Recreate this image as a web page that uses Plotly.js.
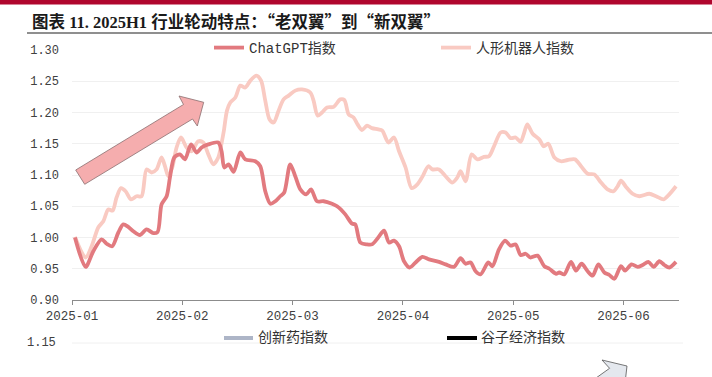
<!DOCTYPE html>
<html>
<head>
<meta charset="utf-8">
<script src="https://cdn.plot.ly/plotly-3.0.1.min.js"></script>
<style>html,body{margin:0;padding:0;background:#fff;}#chart{width:712px;height:377px;}</style>
</head>
<body>
<div id="chart"></div>
<script>
// ---- data (x in months since 2025-01) ----
var monthTicks = [0, 1, 2, 3, 4, 5];
var monthLabels = ["2025-01", "2025-02", "2025-03", "2025-04", "2025-05", "2025-06"];

var chatName = "ChatGPT指数";
var chatX = [0.027,0.123,0.193,0.268,0.314,0.365,0.420,0.465,0.510,0.556,0.616,0.676,0.737,0.776,0.812,0.858,0.888,0.927,0.979,1.024,1.079,1.130,1.175,1.236,1.326,1.356,1.381,1.420,1.465,1.526,1.571,1.662,1.707,1.752,1.798,1.843,1.888,1.924,1.978,2.024,2.070,2.124,2.167,2.221,2.281,2.357,2.403,2.478,2.539,2.568,2.614,2.674,2.720,2.768,2.829,2.874,2.919,2.965,3.010,3.061,3.115,3.176,3.237,3.327,3.387,3.463,3.523,3.568,3.614,3.659,3.704,3.774,3.811,3.871,3.926,3.976,4.022,4.067,4.112,4.155,4.221,4.282,4.327,4.388,4.418,4.463,4.524,4.569,4.620,4.675,4.720,4.772,4.826,4.872,4.917,4.977,5.014,5.073,5.128,5.173,5.225,5.273,5.325,5.370,5.415,5.476];
var chatY = [1.000,0.953,0.978,0.997,0.990,0.986,1.008,1.021,1.017,1.010,1.004,1.013,1.007,1.009,1.053,1.066,1.096,1.128,1.133,1.125,1.149,1.136,1.144,1.149,1.152,1.138,1.112,1.117,1.105,1.136,1.125,1.122,1.114,1.074,1.054,1.058,1.066,1.072,1.117,1.098,1.077,1.069,1.077,1.058,1.058,1.054,1.050,1.037,1.022,1.021,0.992,0.989,0.989,0.998,1.011,0.992,0.995,0.986,0.962,0.952,0.960,0.969,0.965,0.961,0.957,0.953,0.967,0.958,0.960,0.946,0.941,0.960,0.954,0.981,0.995,0.987,0.989,0.972,0.974,0.968,0.971,0.954,0.950,0.942,0.944,0.941,0.961,0.947,0.958,0.946,0.939,0.957,0.944,0.940,0.934,0.954,0.947,0.957,0.953,0.956,0.961,0.953,0.962,0.956,0.952,0.961];

var robotName = "人形机器人指数";
var robotX = [0.027,0.123,0.178,0.238,0.284,0.329,0.368,0.404,0.444,0.486,0.535,0.586,0.631,0.676,0.722,0.767,0.812,0.843,0.873,0.909,0.948,0.988,1.039,1.084,1.145,1.190,1.236,1.281,1.326,1.355,1.376,1.405,1.435,1.481,1.526,1.571,1.617,1.671,1.714,1.752,1.791,1.828,1.873,1.918,1.964,2.024,2.085,2.160,2.190,2.227,2.267,2.312,2.372,2.432,2.469,2.508,2.553,2.589,2.629,2.675,2.720,2.777,2.813,2.868,2.919,2.965,3.024,3.079,3.131,3.176,3.230,3.267,3.327,3.387,3.448,3.493,3.523,3.568,3.623,3.675,3.735,3.781,3.826,3.886,3.931,3.976,4.022,4.067,4.095,4.128,4.176,4.237,4.276,4.318,4.373,4.433,4.493,4.560,4.615,4.675,4.735,4.796,4.856,4.910,4.947,4.977,5.023,5.082,5.143,5.234,5.295,5.364,5.415,5.476];
var robotY = [1.001,0.968,0.986,1.016,1.026,1.045,1.043,1.064,1.079,1.074,1.061,1.066,1.066,1.109,1.104,1.109,1.128,1.114,1.098,1.112,1.144,1.160,1.144,1.138,1.154,1.152,1.133,1.117,1.128,1.150,1.170,1.203,1.216,1.224,1.243,1.240,1.251,1.259,1.251,1.219,1.189,1.184,1.203,1.221,1.227,1.235,1.237,1.232,1.219,1.195,1.200,1.208,1.209,1.221,1.220,1.197,1.192,1.181,1.172,1.179,1.175,1.173,1.171,1.152,1.160,1.138,1.112,1.079,1.085,1.097,1.114,1.109,1.109,1.098,1.088,1.096,1.106,1.090,1.133,1.125,1.129,1.130,1.146,1.168,1.168,1.159,1.160,1.153,1.165,1.181,1.166,1.157,1.146,1.150,1.128,1.122,1.124,1.125,1.114,1.102,1.101,1.088,1.077,1.074,1.082,1.091,1.081,1.070,1.066,1.070,1.066,1.061,1.069,1.082];

var titleCn1 = "图表";
var titleNum = " 11. 2025H1 ";
var titleCn2 = "行业轮动特点：“老双翼”到“新双翼”";
var nextLegend = ["创新药指数", "谷子经济指数"];
var nextTick = "1.15";

// ---- layout helpers (pixel -> paper) ----
var W = 712, H = 377, ML = 72, MR = 33, MT = 50, MB = 77;
var PW = W - ML - MR, PH = H - MT - MB;
function PX(x){ return (x - ML) / PW; }
function PY(y){ return (H - MB - y) / PH; }
function path(pts){ return pts.map(function(p,i){ return (i?"L":"M") + PX(p[0]).toFixed(5) + "," + PY(p[1]).toFixed(5); }).join(" ") + " Z"; }

var monoFont = "Liberation Mono, Noto Sans CJK SC, monospace";
var cjkFont = "Liberation Mono, Noto Sans CJK SC, sans-serif";
var cjkOnly = "Noto Sans CJK SC";
var serifLatin = "Liberation Serif";

var traces = [
  {x: robotX, y: robotY, name: robotName, type: "scatter", mode: "lines",
   line: {color: "#f9cac2", width: 3.8, shape: "spline", smoothing: 0.8}},
  {x: chatX, y: chatY, name: chatName, type: "scatter", mode: "lines",
   line: {color: "#e27a7f", width: 3.8, shape: "spline", smoothing: 0.8}}
];

var shapes = [
  {type: "rect", xref: "paper", yref: "paper", x0: PX(0), x1: PX(712), y0: PY(0), y1: PY(4.5), fillcolor: "#b0072e", line: {width: 0}},
  {type: "line", xref: "paper", yref: "paper", x0: PX(27), x1: PX(712), y0: PY(33), y1: PY(33), line: {color: "#8f8f8f", width: 2}},
  // pink arrow
  {type: "path", xref: "paper", yref: "paper", layer: "above",
   path: path([[75.7,170],[183.5,104.5],[179,96],[203.7,102.3],[197.3,126],[192.5,119],[84.7,184.3]]),
   fillcolor: "#f5adae", line: {color: "#8a6f70", width: 0.8}},
  // bottom (next chart) pieces
  {type: "line", xref: "paper", yref: "paper", x0: PX(72), x1: PX(683), y0: PY(343), y1: PY(343), line: {color: "#f0f0f0", width: 1}},
  {type: "line", xref: "paper", yref: "paper", x0: PX(224), x1: PX(253), y0: PY(338), y1: PY(338), line: {color: "#adb5c7", width: 4}},
  {type: "line", xref: "paper", yref: "paper", x0: PX(447), x1: PX(477), y0: PY(338), y1: PY(338), line: {color: "#000000", width: 4}},
  {type: "path", xref: "paper", yref: "paper",
   path: path([[602,360],[627,366],[624,392],[617,384],[590,400],[582,388],[609.6,368.3]]),
   fillcolor: "#e4e8ee", line: {color: "#555555", width: 0.8}}
];

var titleHtml = "<b><span style='font-family:" + cjkOnly + "'>" + titleCn1 + "</span>" +
                "<span style='font-family:" + serifLatin + "'>" + titleNum + "</span>" +
                "<span style='font-family:" + cjkOnly + "'>" + titleCn2 + "</span></b>";

var annotations = [
  {xref: "paper", yref: "paper", x: PX(30), y: PY(21), xanchor: "left", yanchor: "middle", showarrow: false,
   text: titleHtml, font: {family: "Noto Sans CJK SC, Liberation Serif, serif", size: 16.5, color: "#1a1a1a"}},
  {xref: "paper", yref: "paper", x: PX(256), y: PY(338), xanchor: "left", yanchor: "middle", showarrow: false,
   text: nextLegend[0], font: {family: cjkFont, size: 14, color: "#333333"}},
  {xref: "paper", yref: "paper", x: PX(479), y: PY(338), xanchor: "left", yanchor: "middle", showarrow: false,
   text: nextLegend[1], font: {family: cjkFont, size: 14, color: "#333333"}},
  {xref: "paper", yref: "paper", x: PX(58), y: PY(343), xanchor: "right", yanchor: "middle", showarrow: false,
   text: nextTick, font: {family: monoFont, size: 12, color: "#404040"}}
];

var layout = {
  width: W, height: H,
  margin: {l: ML, r: MR, t: MT, b: MB, pad: 0},
  paper_bgcolor: "#ffffff", plot_bgcolor: "#ffffff",
  showlegend: true,
  legend: {orientation: "h", x: PX(209), y: PY(48), xanchor: "left", yanchor: "middle",
           traceorder: "reversed", entrywidth: 182, entrywidthmode: "pixels",
           font: {family: cjkFont, size: 14, color: "#333333"}, bgcolor: "rgba(0,0,0,0)"},
  xaxis: {range: [0, 5.503], tickmode: "array", tickvals: monthTicks, ticktext: monthLabels,
          showgrid: false, zeroline: false, showline: true, linecolor: "#8c8c8c", linewidth: 1,
          ticks: "outside", ticklen: 4, tickcolor: "#8c8c8c",
          tickfont: {family: monoFont, size: 12.5, color: "#404040"}, fixedrange: true},
  yaxis: {range: [0.9, 1.3], dtick: 0.05, tick0: 0.9, tickformat: ".2f",
          showgrid: true, gridcolor: "#f0f0f0", gridwidth: 1, zeroline: false, showline: false,
          ticks: "", ticklabelstandoff: 12,
          tickfont: {family: monoFont, size: 12, color: "#404040"}, fixedrange: true},
  shapes: shapes,
  annotations: annotations
};

Plotly.newPlot("chart", traces, layout, {displayModeBar: false, staticPlot: true});
</script>
</body>
</html>
